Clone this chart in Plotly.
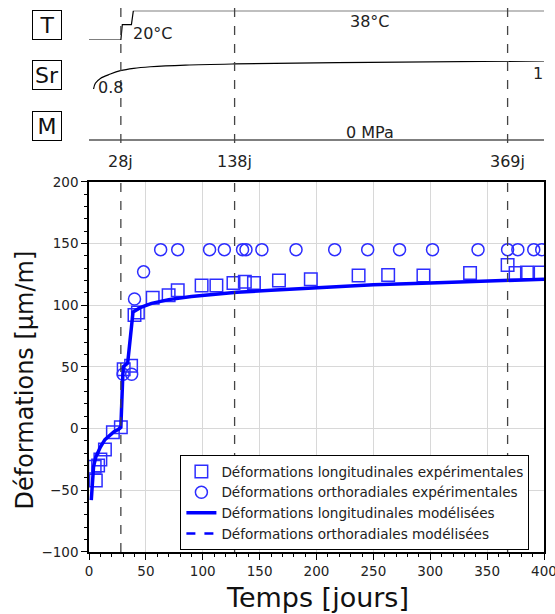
import plotly.graph_objects as go

# ---------------- data ----------------
# experimental longitudinal strains (squares)
long_days = [5, 6, 8, 10, 14, 21, 28, 30.5, 37, 40, 43, 56, 70, 78, 99, 112, 127, 137,
             145, 167, 195, 237, 263, 294, 335, 368, 375, 385, 397]
long_vals = [-31, -42, -30, -25, -17, -3, 1, 48, 51, 92, 94, 106, 108, 112, 116, 116, 118, 119,
             118, 120, 121, 124, 124.5, 124, 126, 132.5, 126, 126.5, 126.5]

# experimental orthoradial strains (circles)
orth_days = [30, 37.5, 40, 48, 63, 78, 106, 119, 135, 138, 152, 182, 216, 245, 273, 302,
             342, 368, 377, 391, 398]
orth_vals = [44, 44, 105, 127, 145, 145, 145, 145, 145, 145, 145, 145, 145, 145, 145, 145,
             145, 145, 145, 145, 145]

# modelled longitudinal strains
mod_days = [2, 2.5, 3, 4, 6, 8, 10, 14, 18, 22, 26, 28, 30, 34, 38.7, 45, 55, 70, 90,
            110, 130, 160, 200, 250, 300, 350, 400]
mod_vals = [-58, -48, -40, -31, -23, -18, -15, -9, -5.5, -2.5, -0.5, 1, 50, 53, 94.5, 98,
            101.5, 104.5, 107, 109, 110.5, 112, 114, 116.5, 118, 119.5, 121]

# loading history (top panel)
T_days = [0, 28, 29.3, 37.3, 39, 400]
T_vals = [20, 20, 29.5, 29.5, 38, 38]
Sr_days = [4, 5.6, 10, 18.8, 27.6, 39.3, 54, 84.8, 127.8, 247.4, 400]
Sr_vals = [0.80, 0.841, 0.876, 0.907, 0.931, 0.948, 0.959, 0.971, 0.979, 0.991, 1.0]
M_days = [0, 400]
M_vals = [0, 0]

event_days = [28, 128, 368]
event_labels = ["28j", "138j", "369j"]

FONT = "DejaVu Sans"
H_PLOT = 551.8  # height of plotting paper in px (614 - bottom margin)


def py(pix):
    """pixel from top -> paper fraction"""
    return (H_PLOT - pix) / H_PLOT


fig = go.Figure()

mk_col = "rgb(45,45,255)"
fig.add_trace(go.Scatter(x=long_days, y=long_vals, mode="markers",
                         name="Déformations longitudinales expérimentales",
                         marker=dict(symbol="square-open", size=12.5, color=mk_col,
                                     line=dict(width=1.5, color=mk_col))))
fig.add_trace(go.Scatter(x=orth_days, y=orth_vals, mode="markers",
                         name="Déformations orthoradiales expérimentales",
                         marker=dict(symbol="circle-open", size=12, color=mk_col,
                                     line=dict(width=1.5, color=mk_col))))
fig.add_trace(go.Scatter(x=mod_days, y=mod_vals, mode="lines",
                         name="Déformations longitudinales modélisées",
                         line=dict(color="#0000ff", width=3.5)))
fig.add_trace(go.Scatter(x=[None], y=[None], mode="lines",
                         name="Déformations orthoradiales modélisées",
                         line=dict(color="#0000ff", width=2.5, dash="dash")))

# top panel traces
fig.add_trace(go.Scatter(x=T_days, y=T_vals, mode="lines", xaxis="x2", yaxis="y2",
                         line=dict(color="black", width=1.2), showlegend=False))
fig.add_trace(go.Scatter(x=Sr_days, y=Sr_vals, mode="lines", xaxis="x2", yaxis="y3",
                         line=dict(color="black", width=1.2, shape="spline"), showlegend=False))
fig.add_trace(go.Scatter(x=M_days, y=M_vals, mode="lines", xaxis="x2", yaxis="y4",
                         line=dict(color="#555", width=1.5), showlegend=False))

shapes = []
for d in event_days:
    shapes.append(dict(type="line", xref="x", yref="y", x0=d, x1=d, y0=-100, y1=200,
                       line=dict(color="#444", width=1.3, dash="dash"), layer="above"))
    shapes.append(dict(type="line", xref="x", yref="paper", x0=d, x1=d,
                       y0=py(143), y1=py(5),
                       line=dict(color="#444", width=1.3, dash="dash")))

annotations = []
C = dict(xanchor="center", yanchor="middle", showarrow=False)
for d, lab in zip(event_days, event_labels):
    annotations.append(dict(x=d, y=py(161), xref="x", yref="paper", text=lab,
                            font=dict(size=16, color="#222", family=FONT), **C))

for lab, yc in [("T", 24.5), ("Sr", 75), ("M", 125.5)]:
    annotations.append(dict(x=(47 - 88.6) / 455, y=py(yc), xref="paper", yref="paper",
                            text=lab, width=26, height=26,
                            bordercolor="black", borderwidth=1, borderpad=1,
                            font=dict(size=22, color="#111", family=FONT), **C))

for txt, xd, yp in [("20°C", 56, 33), ("38°C", 247, 21), ("0.8", 19, 87),
                    ("1", 395, 73), ("0 MPa", 247, 132)]:
    annotations.append(dict(x=xd, y=py(yp), xref="x", yref="paper", text=txt,
                            font=dict(size=16, color="#222", family=FONT), **C))

annotations.append(dict(x=(25 - 88.6) / 455, y=py(380), xref="paper", yref="paper",
                        text="Déformations [µm/m]", textangle=-90,
                        font=dict(size=24, color="#111", family=FONT), **C))
annotations.append(dict(x=(317 - 88.6) / 455, y=py(597), xref="paper", yref="paper",
                        text="Temps [jours]",
                        font=dict(size=27, color="#111", family=FONT), **C))

main_top = py(181.7)

fig.update_layout(
    width=555, height=614,
    margin=dict(l=88.6, r=11.4, t=0, b=62.2, autoexpand=False),
    paper_bgcolor="white", plot_bgcolor="white",
    font=dict(family=FONT, color="#222"),
    showlegend=True,
    legend=dict(x=(180 - 88.6) / 455, y=py(455), xanchor="left", yanchor="top",
                bgcolor="white", bordercolor="black", borderwidth=1,
                font=dict(size=13.6, color="#222", family=FONT),
                tracegroupgap=0, itemwidth=30),
    xaxis=dict(range=[0, 400], domain=[0, 1], anchor="y", dtick=50, tick0=0,
               automargin=False, ticklabeloverflow="allow",
               showgrid=True, gridcolor="#d8d8d8", gridwidth=1,
               showline=True, linecolor="black", linewidth=1.5, mirror=True,
               ticks="outside", ticklen=6, tickcolor="black",
               minor=dict(dtick=10, ticks="outside", ticklen=3, tickcolor="black", showgrid=False),
               tickfont=dict(size=13.5, color="#222"), zeroline=False),
    yaxis=dict(range=[-100, 200], domain=[0, main_top], anchor="x", dtick=50, tick0=0,
               automargin=False, ticklabeloverflow="allow",
               showgrid=True, gridcolor="#d8d8d8", gridwidth=1,
               showline=True, linecolor="black", linewidth=1.5, mirror=True,
               ticks="outside", ticklen=6, tickcolor="black",
               minor=dict(dtick=10, ticks="outside", ticklen=3, tickcolor="black", showgrid=False),
               tickfont=dict(size=13.5, color="#222"), zeroline=False),
    xaxis2=dict(range=[0, 400], domain=[0, 1], anchor="y2", visible=False, automargin=False),
    yaxis2=dict(range=[20, 38], domain=[py(40), py(10.7)], anchor="x2", visible=False,
                automargin=False),
    yaxis3=dict(range=[0.8, 1.0], domain=[py(89), py(61)], anchor="x2", visible=False,
                automargin=False),
    yaxis4=dict(range=[-1, 1], domain=[py(150), py(130)], anchor="x2", visible=False,
                automargin=False),
    shapes=shapes,
    annotations=annotations,
)

fig.write_html("out.html", config={"displayModeBar": False},
               post_script="document.body.style.margin='0';document.body.style.overflow='hidden';")
